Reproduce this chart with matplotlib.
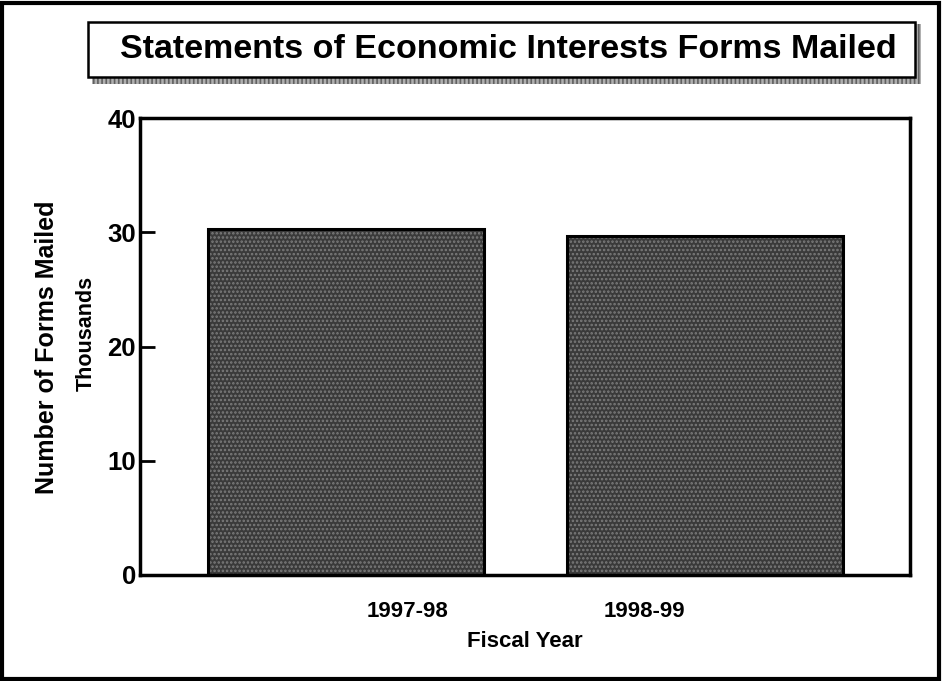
import matplotlib.pyplot as plt
from matplotlib.patches import Rectangle

# data
years = ['1997-98', '1998-99']
forms = [30.3, 29.7]  # thousands
yticks = [0, 10, 20, 30, 40]

plt.rcParams['font.family'] = ['Liberation Sans', 'DejaVu Sans']
plt.rcParams['font.weight'] = 'bold'
plt.rcParams['hatch.linewidth'] = 1.2

fig = plt.figure(figsize=(9.42, 6.81), dpi=100)

# outer frame
fig.patches.append(Rectangle((0.002, 0.003), 0.995, 0.993, transform=fig.transFigure,
                             fill=False, edgecolor='black', lw=3))

# title box with its hatched shadow
fig.patches.append(Rectangle((92 / 942, 1 - 84 / 681), 829 / 942, 60 / 681,
                             transform=fig.transFigure, facecolor='#b0b0b0',
                             edgecolor='#606060', lw=0, hatch='||||'))
fig.patches.append(Rectangle((88 / 942, 1 - 77 / 681), 827 / 942, 55 / 681,
                             transform=fig.transFigure, facecolor='white',
                             edgecolor='black', lw=1.8))
fig.text(508 / 942, 1 - 49 / 681, 'Statements of Economic Interests Forms Mailed',
         ha='center', va='center', fontsize=24.5, fontweight='bold')

ax = fig.add_axes([140 / 942, 106 / 681, 770 / 942, 457 / 681])
x = [0, 1]
# stippled fill, then the black outline
ax.bar(x, forms, width=0.77, color='#3a3a3a', edgecolor='#7c7c7c', hatch='....', linewidth=0)
ax.bar(x, forms, width=0.77, fill=False, edgecolor='black', linewidth=2.2)

ax.set_xlim(-0.574, 1.571)
ax.set_ylim(0, 40)
ax.set_yticks(yticks)
ax.set_yticklabels([str(t) for t in yticks], fontsize=18.5, fontweight='bold')
ax.tick_params(axis='y', direction='in', length=11, width=2, pad=3)

# category labels sit off-centre of the bars in the original
ax.set_xticks([0.17, 0.83])
ax.set_xticklabels(years, fontsize=16, fontweight='bold')
ax.tick_params(axis='x', length=0, pad=19)
ax.set_xlabel('Fiscal Year', fontsize=16, fontweight='bold', labelpad=6)

for s in ax.spines.values():
    s.set_linewidth(2.5)

fig.text(47 / 942, 1 - 347 / 681, 'Number of Forms Mailed', rotation=90,
         ha='center', va='center', fontsize=18, fontweight='bold')
fig.text(86 / 942, 1 - 333 / 681, 'Thousands', rotation=90,
         ha='center', va='center', fontsize=15.5, fontweight='bold')

plt.savefig('out.png', dpi=100)
